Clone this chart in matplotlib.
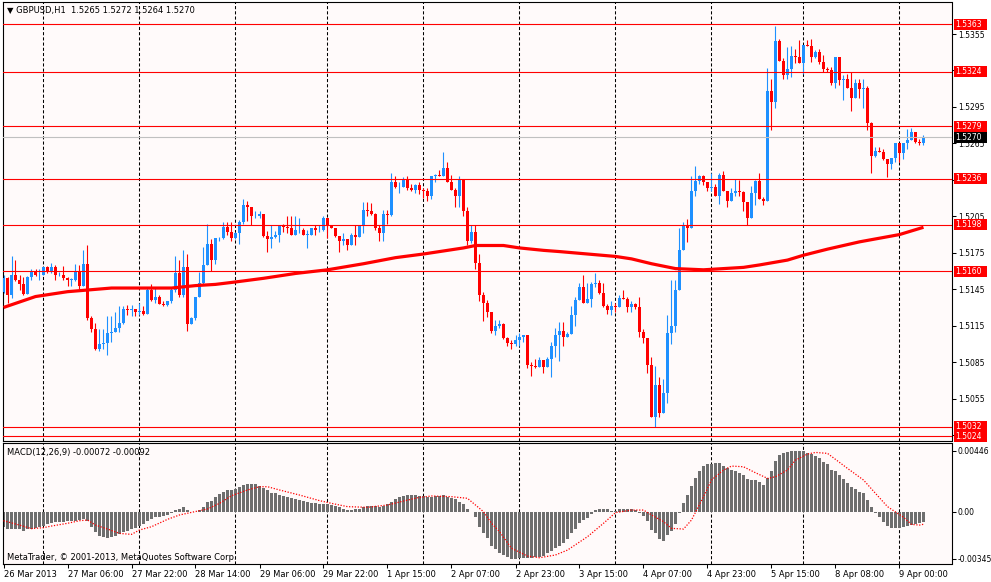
"""
GBPUSD H1 chart with MACD(12,26,9), drawn the MetaTrader way.
"""

import matplotlib
matplotlib.use("Agg")
import numpy as np
import matplotlib.pyplot as plt
from matplotlib.patches import Rectangle
from matplotlib.transforms import blended_transform_factory


# =========================================================
# Data
# =========================================================

FIRST_OPEN = 1.5143

CLOSES = [
    1.5154, 1.5140, 1.5157, 1.5153, 1.5149, 1.5141, 1.5155, 1.5159, 1.5157, 1.5157,
    1.5163, 1.5159, 1.5163, 1.5157, 1.5157, 1.5154, 1.5153, 1.5153, 1.5160, 1.5148,
    1.5166, 1.5121, 1.5112, 1.5096, 1.5100, 1.5101, 1.5109, 1.5110, 1.5113, 1.5117,
    1.5129, 1.5128, 1.5129, 1.5126, 1.5127, 1.5125, 1.5144, 1.5136, 1.5139, 1.5133,
    1.5132, 1.5135, 1.5144, 1.5158, 1.5140, 1.5163, 1.5116, 1.5121, 1.5139, 1.5150,
    1.5165, 1.5182, 1.5169, 1.5187, 1.5187, 1.5196, 1.5192, 1.5187, 1.5191, 1.5200,
    1.5214, 1.5213, 1.5205, 1.5205, 1.5207, 1.5189, 1.5186, 1.5188, 1.5190, 1.5197,
    1.5196, 1.5195, 1.5190, 1.5194, 1.5194, 1.5190, 1.5190, 1.5195, 1.5194, 1.5194,
    1.5204, 1.5198, 1.5195, 1.5189, 1.5185, 1.5186, 1.5181, 1.5190, 1.5188, 1.5198,
    1.5210, 1.5209, 1.5207, 1.5195, 1.5191, 1.5207, 1.5206, 1.5233, 1.5229, 1.5229,
    1.5236, 1.5228, 1.5227, 1.5231, 1.5227, 1.5226, 1.5222, 1.5238, 1.5239, 1.5238,
    1.5245, 1.5233, 1.5227, 1.5222, 1.5235, 1.5209, 1.5185, 1.5192, 1.5167, 1.5140,
    1.5134, 1.5126, 1.5111, 1.5115, 1.5116, 1.5105, 1.5101, 1.5100, 1.5103, 1.5106,
    1.5107, 1.5083, 1.5082, 1.5081, 1.5087, 1.5081, 1.5088, 1.5098, 1.5107, 1.5111,
    1.5106, 1.5108, 1.5124, 1.5136, 1.5147, 1.5134, 1.5137, 1.5149, 1.5150, 1.5142,
    1.5131, 1.5128, 1.5131, 1.5130, 1.5138, 1.5137, 1.5130, 1.5133, 1.5130, 1.5110,
    1.5105, 1.5083, 1.5040, 1.5066, 1.5043, 1.5060, 1.5109, 1.5115, 1.5144, 1.5177,
    1.5197, 1.5195, 1.5226, 1.5234, 1.5238, 1.5233, 1.5228, 1.5229, 1.5222, 1.5239,
    1.5226, 1.5218, 1.5224, 1.5226, 1.5225, 1.5217, 1.5204, 1.5224, 1.5234, 1.5219,
    1.5218, 1.5308, 1.5299, 1.5349, 1.5333, 1.5321, 1.5326, 1.5337, 1.5336, 1.5331,
    1.5346, 1.5345, 1.5336, 1.5340, 1.5332, 1.5326, 1.5325, 1.5315, 1.5336, 1.5317,
    1.5318, 1.5311, 1.5302, 1.5315, 1.5310, 1.5311, 1.5282, 1.5255, 1.5259, 1.5258,
    1.5252, 1.5248, 1.5253, 1.5265, 1.5257, 1.5265, 1.5268, 1.5274, 1.5266, 1.5265,
    1.5270,
]

HIGHS = [
    1.5157, 1.5155, 1.5172, 1.5169, 1.5157, 1.5155, 1.5156, 1.5162, 1.5162, 1.5162,
    1.5163, 1.5164, 1.5167, 1.5165, 1.5159, 1.5164, 1.5155, 1.5154, 1.5166, 1.5165,
    1.5177, 1.5181, 1.5123, 1.5117, 1.5112, 1.5112, 1.5123, 1.5123, 1.5126, 1.5131,
    1.5131, 1.5132, 1.5132, 1.5128, 1.5134, 1.5131, 1.5146, 1.5149, 1.5146, 1.5140,
    1.5135, 1.5135, 1.5146, 1.5172, 1.5169, 1.5177, 1.5174, 1.5122, 1.5139, 1.5159,
    1.5180, 1.5199, 1.5186, 1.5187, 1.5188, 1.5200, 1.5200, 1.5200, 1.5192, 1.5202,
    1.5219, 1.5218, 1.5213, 1.5209, 1.5209, 1.5207, 1.5193, 1.5198, 1.5193, 1.5197,
    1.5199, 1.5205, 1.5205, 1.5205, 1.5204, 1.5195, 1.5194, 1.5195, 1.5198, 1.5198,
    1.5205, 1.5200, 1.5198, 1.5195, 1.5187, 1.5191, 1.5186, 1.5191, 1.5198, 1.5198,
    1.5217, 1.5217, 1.5216, 1.5208, 1.5198, 1.5210, 1.5210, 1.5241, 1.5238, 1.5233,
    1.5237, 1.5238, 1.5232, 1.5232, 1.5233, 1.5228, 1.5228, 1.5238, 1.5240, 1.5243,
    1.5258, 1.5250, 1.5239, 1.5228, 1.5238, 1.5236, 1.5213, 1.5198, 1.5198, 1.5174,
    1.5143, 1.5136, 1.5126, 1.5120, 1.5120, 1.5117, 1.5106, 1.5103, 1.5107, 1.5109,
    1.5107, 1.5106, 1.5085, 1.5088, 1.5089, 1.5084, 1.5089, 1.5102, 1.5113, 1.5118,
    1.5118, 1.5110, 1.5131, 1.5139, 1.5150, 1.5157, 1.5150, 1.5151, 1.5158, 1.5153,
    1.5150, 1.5133, 1.5135, 1.5134, 1.5140, 1.5144, 1.5139, 1.5135, 1.5134, 1.5139,
    1.5112, 1.5104, 1.5089, 1.5082, 1.5073, 1.5071, 1.5124, 1.5153, 1.5153, 1.5195,
    1.5200, 1.5203, 1.5238, 1.5246, 1.5239, 1.5239, 1.5232, 1.5241, 1.5232, 1.5241,
    1.5242, 1.5226, 1.5228, 1.5236, 1.5235, 1.5226, 1.5217, 1.5230, 1.5235, 1.5241,
    1.5221, 1.5327, 1.5318, 1.5362, 1.5351, 1.5335, 1.5344, 1.5345, 1.5343, 1.5350,
    1.5346, 1.5350, 1.5351, 1.5342, 1.5343, 1.5338, 1.5328, 1.5328, 1.5336, 1.5335,
    1.5321, 1.5322, 1.5324, 1.5318, 1.5318, 1.5318, 1.5312, 1.5283, 1.5262, 1.5262,
    1.5260, 1.5252, 1.5253, 1.5265, 1.5263, 1.5265, 1.5277, 1.5278, 1.5274, 1.5269,
    1.5272,
]

LOWS = [
    1.5142, 1.5134, 1.5138, 1.5152, 1.5144, 1.5140, 1.5142, 1.5153, 1.5156, 1.5153,
    1.5157, 1.5158, 1.5158, 1.5153, 1.5156, 1.5153, 1.5148, 1.5148, 1.5152, 1.5145,
    1.5148, 1.5120, 1.5110, 1.5095, 1.5094, 1.5096, 1.5091, 1.5102, 1.5110, 1.5110,
    1.5116, 1.5124, 1.5123, 1.5123, 1.5124, 1.5124, 1.5126, 1.5135, 1.5134, 1.5133,
    1.5131, 1.5131, 1.5134, 1.5143, 1.5139, 1.5139, 1.5111, 1.5116, 1.5120, 1.5139,
    1.5149, 1.5165, 1.5160, 1.5166, 1.5185, 1.5186, 1.5190, 1.5185, 1.5186, 1.5182,
    1.5199, 1.5201, 1.5198, 1.5204, 1.5204, 1.5188, 1.5176, 1.5179, 1.5187, 1.5184,
    1.5192, 1.5191, 1.5190, 1.5190, 1.5191, 1.5190, 1.5179, 1.5190, 1.5190, 1.5192,
    1.5193, 1.5187, 1.5195, 1.5188, 1.5176, 1.5181, 1.5177, 1.5181, 1.5181, 1.5188,
    1.5191, 1.5205, 1.5206, 1.5194, 1.5185, 1.5185, 1.5199, 1.5205, 1.5228, 1.5224,
    1.5231, 1.5227, 1.5226, 1.5224, 1.5223, 1.5220, 1.5218, 1.5219, 1.5233, 1.5238,
    1.5238, 1.5233, 1.5227, 1.5213, 1.5213, 1.5205, 1.5181, 1.5183, 1.5162, 1.5135,
    1.5119, 1.5122, 1.5109, 1.5107, 1.5113, 1.5104, 1.5098, 1.5096, 1.5098, 1.5098,
    1.5102, 1.5080, 1.5074, 1.5080, 1.5081, 1.5076, 1.5081, 1.5073, 1.5089, 1.5086,
    1.5098, 1.5106, 1.5110, 1.5115, 1.5137, 1.5134, 1.5135, 1.5130, 1.5147, 1.5141,
    1.5130, 1.5125, 1.5124, 1.5126, 1.5130, 1.5137, 1.5126, 1.5126, 1.5129, 1.5106,
    1.5101, 1.5076, 1.5040, 1.5032, 1.5040, 1.5043, 1.5051, 1.5100, 1.5110, 1.5145,
    1.5177, 1.5184, 1.5196, 1.5222, 1.5232, 1.5231, 1.5226, 1.5226, 1.5222, 1.5215,
    1.5226, 1.5213, 1.5219, 1.5222, 1.5222, 1.5209, 1.5198, 1.5204, 1.5214, 1.5219,
    1.5214, 1.5218, 1.5276, 1.5294, 1.5333, 1.5318, 1.5318, 1.5320, 1.5331, 1.5331,
    1.5322, 1.5345, 1.5332, 1.5335, 1.5330, 1.5324, 1.5324, 1.5313, 1.5311, 1.5313,
    1.5301, 1.5311, 1.5292, 1.5302, 1.5302, 1.5294, 1.5276, 1.5241, 1.5254, 1.5258,
    1.5251, 1.5237, 1.5244, 1.5250, 1.5250, 1.5252, 1.5260, 1.5269, 1.5265, 1.5264,
    1.5264,
]

# moving average, sampled along the bars
MA_BARS = [0, 8, 16, 27, 33, 42, 48, 53, 58, 65, 73, 81, 90, 98, 105, 115, 118,
           125, 129, 135, 139, 146, 153, 157, 162, 168, 175, 185, 189, 196, 200,
           206, 214, 224, 230]
MA_VALUES = [1.5130, 1.5139, 1.5143, 1.5146, 1.5146, 1.5146, 1.5148, 1.5149,
             1.5151, 1.5154, 1.5158, 1.5161, 1.5166, 1.5171, 1.5174, 1.5179,
             1.5181, 1.5181, 1.5179, 1.5177, 1.5176, 1.5174, 1.5172, 1.5170,
             1.5166, 1.5162, 1.5161, 1.5163, 1.5165, 1.5169, 1.5173, 1.5178,
             1.5184, 1.5190, 1.5196]

# MACD main line (histogram), in points of 0.00001
MACD_POINTS = [
    -110, -127, -127, -129, -129, -139, -129, -129, -120, -115,
    -105, -93, -85, -78, -76, -73, -68, -66, -66, -61,
    -56, -68, -110, -146, -176, -188, -190, -188, -178, -166,
    -151, -139, -124, -117, -105, -90, -66, -54, -41, -37,
    -32, -24, -7, 12, 20, 32, 12, -2, 1, 12,
    32, 73, 81, 110, 127, 144, 159, 159, 168, 178,
    198, 203, 203, 200, 188, 171, 159, 139, 134, 122,
    115, 110, 98, 90, 85, 78, 68, 66, 61, 56,
    56, 56, 49, 41, 32, 22, 12, 12, 17, 22,
    37, 41, 41, 41, 37, 41, 56, 73, 90, 105,
    115, 122, 122, 122, 117, 115, 110, 110, 115, 117,
    122, 110, 102, 90, 73, 56, 20, -5, -41, -110,
    -159, -195, -249, -276, -300, -317, -334, -345, -345, -337,
    -337, -342, -342, -334, -329, -325, -305, -288, -268, -251,
    -227, -200, -159, -127, -85, -61, -49, -17, 12, 17,
    20, 17, 7, 7, 17, 20, 20, 20, 12, -7,
    -32, -66, -134, -159, -203, -212, -171, -139, -90, -12,
    66, 122, 188, 244, 298, 334, 346, 351, 356, 354,
    334, 317, 305, 300, 285, 268, 237, 232, 232, 220,
    195, 244, 298, 371, 415, 427, 439, 444, 446, 445,
    442, 432, 420, 410, 390, 366, 349, 305, 300, 268,
    237, 212, 178, 163, 146, 134, 85, 37, -12, -41,
    -73, -105, -117, -117, -122, -115, -105, -98, -93, -85,
    -72,
]

# MACD signal line, sampled along the bars
SIGNAL_BARS = [0, 4, 7, 10, 12, 16, 19, 21, 23, 26, 29, 32, 34, 37, 41, 44, 47,
               51, 54, 57, 61, 64, 66, 69, 74, 79, 82, 86, 91, 96, 101, 104,
               107, 112, 116, 117, 120, 122, 124, 127, 131, 134, 138, 141, 146,
               150, 153, 157, 160, 162, 165, 167, 170, 172, 175, 177, 180, 182,
               185, 188, 191, 193, 196, 198, 201, 203, 206, 208, 211, 215, 218,
               221, 225, 227, 229, 230]
SIGNAL_POINTS = [-66, -98, -124, -117, -105, -85, -66, -61, -98, -127, -159,
                 -166, -134, -110, -56, -24, -5, 20, 61, 117, 159, 183, 183,
                 159, 122, 81, 61, 37, 32, 49, 85, 105, 115, 110, 98, 73, 0,
                 -85, -146, -268, -325, -337, -317, -281, -183, -85, -7, 12,
                 12, -24, -73, -122, -127, -61, 110, 232, 305, 334, 329, 285,
                 244, 256, 305, 378, 422, 434, 427, 383, 317, 232, 134, 37,
                 -41, -93, -98, -92]

LEVELS = [1.5363, 1.5324, 1.5279, 1.5236, 1.5198, 1.5160, 1.5032, 1.5024]
BID = 1.5270

PRICE_TICKS = [1.5025, 1.5055, 1.5085, 1.5115, 1.5145, 1.5175, 1.5205,
               1.5235, 1.5265, 1.5295, 1.5325, 1.5355]
# scale labels that sit fully under a price tag in the screenshot
HIDDEN_TICKS = [1.5025, 1.5235, 1.5325]

MACD_TICKS = [0.00446, 0.0, -0.00345]
MACD_TICK_LABELS = ["0.00446", "0.00", "-0.00345"]

DAY_STARTS = [10, 34, 58, 81, 105, 129, 153, 177, 200, 224]

TIME_TICKS = [0, 16, 32, 48, 64, 80, 96, 112, 128, 144, 160, 176, 192, 208, 224]
TIME_LABELS = ["26 Mar 2013", "27 Mar 06:00", "27 Mar 22:00", "28 Mar 14:00",
               "29 Mar 06:00", "29 Mar 22:00", "1 Apr 15:00", "2 Apr 07:00",
               "2 Apr 23:00", "3 Apr 15:00", "4 Apr 07:00", "4 Apr 23:00",
               "5 Apr 15:00", "8 Apr 08:00", "9 Apr 00:00"]


# =========================================================
# Look
# =========================================================

W, H = 991, 582
BG = "#FFFAFA"
BULL = "#1E90FF"
BEAR = "#FF0000"
HIST = "#6E6E6E"
FS = 6
FS_SCALE = 5.5

plt.rcParams["font.family"] = ["DejaVu Sans"]


def px_rect(x0, y0, x1, y1):
    # pixel box (top-left origin) -> figure fraction
    return [x0 / W, 1 - y1 / H, (x1 - x0) / W, (y1 - y0) / H]


def day_grid(ax):
    for d in DAY_STARTS:
        ax.axvline(d, color="black", lw=0.75, ls=(0, (3, 2)), zorder=1)


def frame(ax):
    for s in ax.spines.values():
        s.set_color("black")
        s.set_linewidth(0.8)
    ax.set_facecolor(BG)


# =========================================================
# Main
# =========================================================

def main():

    fig = plt.figure(figsize=(W / 100, H / 100), dpi=100, facecolor="white")

    ax = fig.add_axes(px_rect(2.5, 2, 951.5, 441))
    ax2 = fig.add_axes(px_rect(2.5, 443, 951.5, 564))

    n = len(CLOSES)
    x = np.arange(n)
    closes = np.array(CLOSES)
    opens = np.concatenate([[FIRST_OPEN], closes[:-1]])
    highs = np.maximum(np.array(HIGHS), np.maximum(opens, closes))
    lows = np.minimum(np.array(LOWS), np.minimum(opens, closes))

    colors = [BULL if c >= o else BEAR for o, c in zip(opens, closes)]

    # ---- price window
    frame(ax)
    day_grid(ax)

    ax.vlines(x, lows, highs, colors=colors, lw=0.8, zorder=2)
    body = closes - opens
    body = np.where(np.abs(body) < 0.00001, 0.00001, body)
    ax.bar(x, body, bottom=opens, width=0.75, color=colors, linewidth=0,
           zorder=3)

    ax.plot(MA_BARS, MA_VALUES, color="red", lw=2.3, zorder=4,
            solid_capstyle="butt")

    for lv in LEVELS:
        ax.axhline(lv, color="red", lw=0.8, zorder=5)
    ax.axhline(BID, color="#C0C0C0", lw=0.8, zorder=5)

    ax.set_xlim(-0.25, 237)
    ax.set_ylim(1.502014, 1.538135)
    ax.set_xticks([])
    ax.yaxis.tick_right()
    ax.set_yticks(PRICE_TICKS)
    ax.set_yticklabels(["" if v in HIDDEN_TICKS else f"{v:.4f}"
                        for v in PRICE_TICKS])
    ax.tick_params(axis="y", direction="out", length=3, width=0.75,
                   pad=1.5, labelsize=FS_SCALE, colors="black")

    # price tags on the right scale
    tr = blended_transform_factory(ax.transAxes, ax.transData)
    box_w = 33 / 949
    box_h = 11 * (1.538135 - 1.502014) / 439
    tags = [(lv, "red") for lv in LEVELS] + [(BID, "black")]
    for lv, fc in tags:
        ax.add_patch(Rectangle((1 + 2 / 949, lv - box_h / 2), box_w, box_h,
                               transform=tr, facecolor=fc, edgecolor="none",
                               clip_on=False, zorder=20))
        ax.text(1 + 4 / 949, lv, f"{lv:.4f}", transform=tr, color="white",
                fontsize=FS_SCALE, va="center", ha="left", clip_on=False,
                zorder=21)

    # ---- MACD window
    frame(ax2)
    day_grid(ax2)

    macd = np.array(MACD_POINTS) * 1e-5
    signal = np.array(SIGNAL_POINTS) * 1e-5
    ax2.bar(x, macd, width=0.75, color=HIST, linewidth=0, zorder=2)
    ax2.plot(SIGNAL_BARS, signal, color="red", lw=0.9, ls=(0, (1, 1.3)),
             zorder=3)

    ax2.set_xlim(-0.25, 237)
    ax2.set_ylim(-0.00383, 0.00503)
    ax2.yaxis.tick_right()
    ax2.set_yticks(MACD_TICKS)
    ax2.set_yticklabels(MACD_TICK_LABELS)
    ax2.tick_params(axis="y", direction="out", length=3, width=0.75,
                    pad=1.5, labelsize=FS_SCALE)

    ax2.set_xticks(TIME_TICKS)
    ax2.set_xticklabels(TIME_LABELS)
    for lbl in ax2.get_xticklabels():
        lbl.set_horizontalalignment("left")
    ax2.tick_params(axis="x", direction="out", length=3, width=0.75,
                    pad=1.5, labelsize=FS)

    # ---- captions
    fig.text(7 / W, 1 - 11 / H, "\u25bc GBPUSD,H1  1.5265 1.5272 1.5264 1.5270",
             fontsize=FS, va="center", ha="left")
    fig.text(7 / W, 1 - 453 / H, "MACD(12,26,9) -0.00072 -0.00092",
             fontsize=FS, va="center", ha="left")
    fig.text(7 / W, 1 - 557 / H,
             "MetaTrader, \u00a9 2001-2013, MetaQuotes Software Corp.",
             fontsize=FS, va="center", ha="left")

    fig.savefig("out.png", dpi=100, facecolor="white")
    plt.close(fig)


if __name__ == "__main__":
    main()
